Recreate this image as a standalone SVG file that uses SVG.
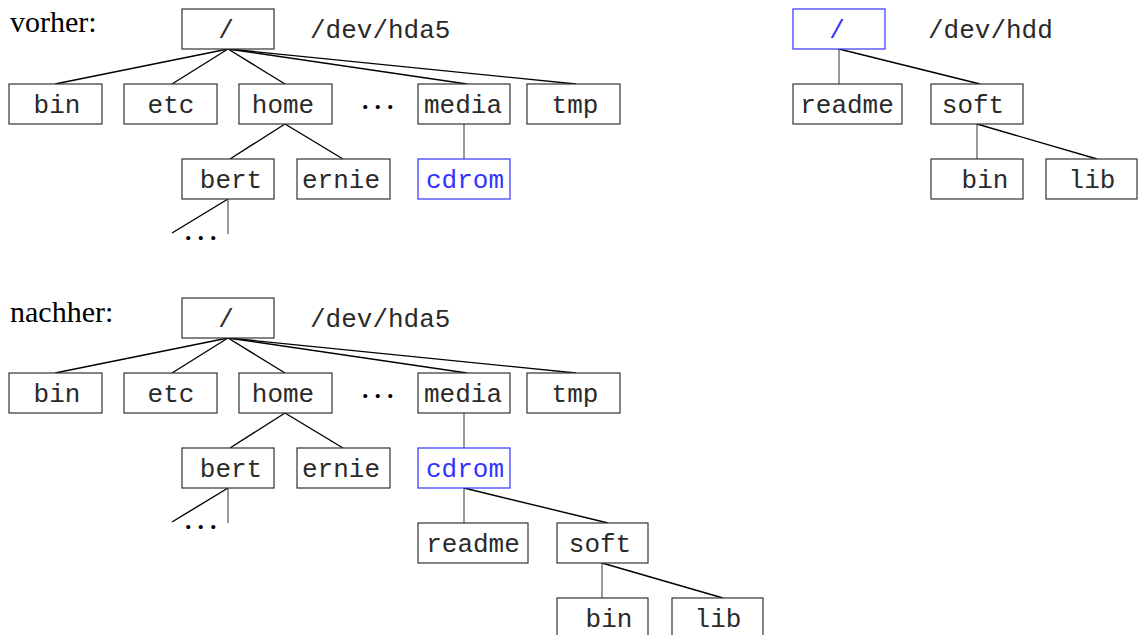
<svg xmlns="http://www.w3.org/2000/svg" width="1138" height="635" viewBox="0 0 1138 635">
<style>
.box{fill:#fff;stroke:#333;stroke-width:1.2}
.blue{stroke:#3333ff}
.t{font-family:"Liberation Mono","Courier New",monospace;font-size:26px;fill:#2a2a2a;text-anchor:middle}
.tb{fill:#3333ff}
.dev{font-family:"Liberation Mono","Courier New",monospace;font-size:26px;fill:#2a2a2a}
.lbl{font-family:"Liberation Serif","Times New Roman",serif;font-size:30px;fill:#000}
.dots{font-family:"Liberation Serif","Times New Roman",serif;font-size:34px;fill:#000;letter-spacing:4px}
.c line{stroke:#000;stroke-width:1.4}
.c line.v{stroke:#444;stroke-width:1.1}
</style>
<rect width="1138" height="635" fill="#fff"/>
<text class="lbl" x="10" y="32">vorher:</text>
<text class="lbl" x="10" y="322">nachher:</text>
<g class="c" id="connectors">
<line x1="228" y1="49" x2="55" y2="84"/>
<line x1="228" y1="49" x2="172" y2="84"/>
<line x1="228" y1="49" x2="285" y2="84"/>
<line x1="228" y1="49" x2="467" y2="84"/>
<line x1="228" y1="49" x2="576" y2="84"/>
<line x1="285" y1="124" x2="230" y2="159"/>
<line x1="285" y1="124" x2="343" y2="159"/>
<line x1="228" y1="199" x2="172" y2="233"/>
<line class="v" x1="228" y1="199" x2="228" y2="234"/>
<line class="v" x1="464" y1="124" x2="464" y2="159"/>
<line class="v" x1="839" y1="49" x2="839" y2="84"/>
<line x1="839" y1="49" x2="980" y2="84"/>
<line class="v" x1="977" y1="124" x2="977" y2="159"/>
<line x1="977" y1="124" x2="1097" y2="159"/>
<line x1="228" y1="338" x2="55" y2="373"/>
<line x1="228" y1="338" x2="172" y2="373"/>
<line x1="228" y1="338" x2="285" y2="373"/>
<line x1="228" y1="338" x2="467" y2="373"/>
<line x1="228" y1="338" x2="576" y2="373"/>
<line x1="285" y1="413" x2="230" y2="448"/>
<line x1="285" y1="413" x2="343" y2="448"/>
<line x1="228" y1="488" x2="172" y2="522"/>
<line class="v" x1="228" y1="488" x2="228" y2="523"/>
<line class="v" x1="464" y1="413" x2="464" y2="448"/>
<line class="v" x1="464" y1="488" x2="464" y2="523"/>
<line x1="464" y1="488" x2="608" y2="523"/>
<line class="v" x1="602" y1="563" x2="602" y2="598"/>
<line x1="602" y1="563" x2="723" y2="598"/>
</g>
<g id="top-root"><rect class="box" x="182" y="9" width="92" height="40"/><text class="t" x="226" y="38">/</text></g>
<text class="dev" x="310" y="38">/dev/hda5</text>
<g id="top-bin"><rect class="box" x="9" y="84" width="93" height="40"/><text class="t" x="57" y="113">bin</text></g>
<g id="top-etc"><rect class="box" x="124" y="84" width="93" height="40"/><text class="t" x="171" y="113">etc</text></g>
<g id="top-home"><rect class="box" x="239" y="84" width="93" height="40"/><text class="t" x="283" y="113">home</text></g>
<text class="dots" x="361" y="109">...</text>
<g id="top-media"><rect class="box" x="418" y="84" width="92" height="40"/><text class="t" x="463" y="113">media</text></g>
<g id="top-tmp"><rect class="box" x="527" y="84" width="93" height="40"/><text class="t" x="575" y="113">tmp</text></g>
<g id="top-bert"><rect class="box" x="182" y="159" width="92" height="40"/><text class="t" x="231" y="188">bert</text></g>
<g id="top-ernie"><rect class="box" x="297" y="159" width="93" height="40"/><text class="t" x="341" y="188">ernie</text></g>
<g id="top-cdrom"><rect class="box blue" x="418" y="159" width="92" height="40"/><text class="t tb" x="465" y="188">cdrom</text></g>
<text class="dots" x="184" y="240">...</text>

<g id="hdd-root"><rect class="box blue" x="793" y="9" width="92" height="40"/><text class="t tb" x="837" y="38">/</text></g>
<text class="dev" x="928" y="38">/dev/hdd</text>
<g id="hdd-readme"><rect class="box" x="793" y="84" width="109" height="40"/><text class="t" x="847" y="113">readme</text></g>
<g id="hdd-soft"><rect class="box" x="931" y="84" width="92" height="40"/><text class="t" x="973" y="113">soft</text></g>
<g id="hdd-bin"><rect class="box" x="931" y="159" width="92" height="40"/><text class="t" x="985" y="188">bin</text></g>
<g id="hdd-lib"><rect class="box" x="1046" y="159" width="91" height="40"/><text class="t" x="1092" y="188">lib</text></g>

<g id="bot-root"><rect class="box" x="182" y="298" width="92" height="40"/><text class="t" x="226" y="327">/</text></g>
<text class="dev" x="310" y="327">/dev/hda5</text>
<g id="bot-bin"><rect class="box" x="9" y="373" width="93" height="40"/><text class="t" x="57" y="402">bin</text></g>
<g id="bot-etc"><rect class="box" x="124" y="373" width="93" height="40"/><text class="t" x="171" y="402">etc</text></g>
<g id="bot-home"><rect class="box" x="239" y="373" width="93" height="40"/><text class="t" x="283" y="402">home</text></g>
<text class="dots" x="361" y="398">...</text>
<g id="bot-media"><rect class="box" x="418" y="373" width="92" height="40"/><text class="t" x="463" y="402">media</text></g>
<g id="bot-tmp"><rect class="box" x="527" y="373" width="93" height="40"/><text class="t" x="575" y="402">tmp</text></g>
<g id="bot-bert"><rect class="box" x="182" y="448" width="92" height="40"/><text class="t" x="231" y="477">bert</text></g>
<g id="bot-ernie"><rect class="box" x="297" y="448" width="93" height="40"/><text class="t" x="341" y="477">ernie</text></g>
<g id="bot-cdrom"><rect class="box blue" x="418" y="448" width="92" height="40"/><text class="t tb" x="465" y="477">cdrom</text></g>
<text class="dots" x="184" y="529">...</text>
<g id="bot-readme"><rect class="box" x="418" y="523" width="110" height="40"/><text class="t" x="473" y="552">readme</text></g>
<g id="bot-soft"><rect class="box" x="557" y="523" width="91" height="40"/><text class="t" x="600" y="552">soft</text></g>
<g id="bot-bin2"><rect class="box" x="557" y="598" width="91" height="40"/><text class="t" x="609" y="627">bin</text></g>
<g id="bot-lib"><rect class="box" x="672" y="598" width="91" height="40"/><text class="t" x="718" y="627">lib</text></g>
</svg>
